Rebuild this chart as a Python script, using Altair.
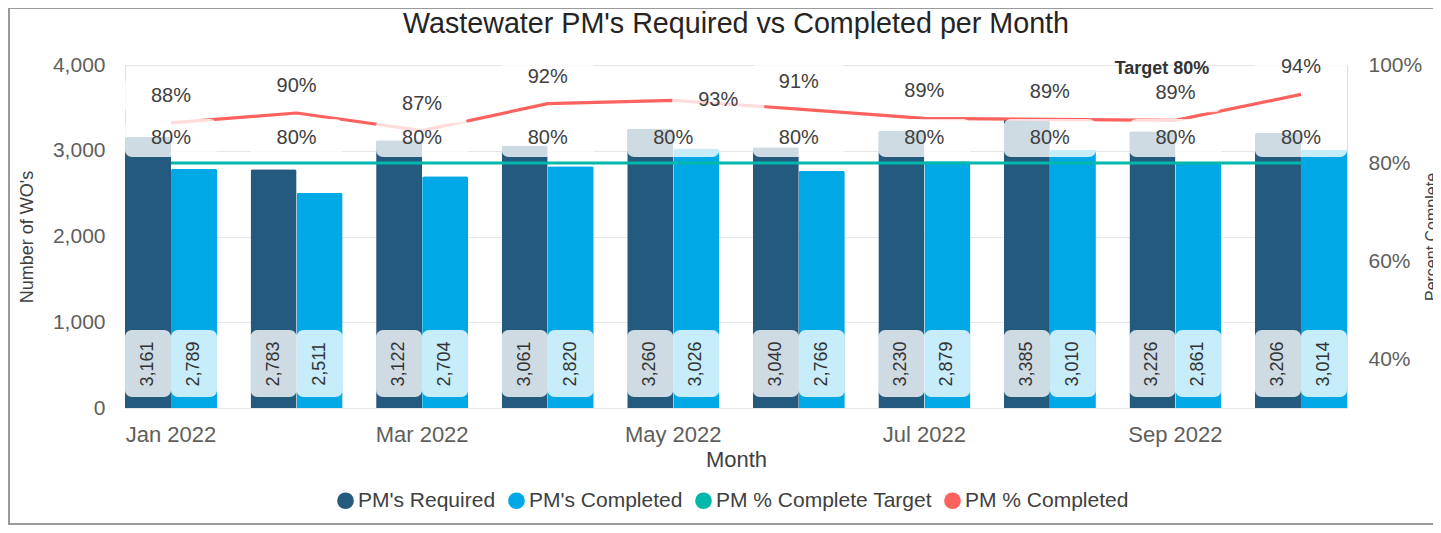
import altair as alt
import pandas as pd

months = ["Jan 2022", "Feb 2022", "Mar 2022", "Apr 2022", "May 2022",
          "Jun 2022", "Jul 2022", "Aug 2022", "Sep 2022", "Oct 2022"]
tick_months = ["Jan 2022", "Mar 2022", "May 2022", "Jul 2022", "Sep 2022"]
required = [3161, 2783, 3122, 3061, 3260, 3040, 3230, 3385, 3226, 3206]
completed = [2789, 2511, 2704, 2820, 3026, 2766, 2879, 3010, 2861, 3014]
pct_completed = [88.2, 90.2, 86.6, 92.1, 92.8, 91.0, 89.1, 88.9, 88.7, 94.0]
pct_target = [80, 80, 80, 80, 80, 80, 80, 80, 80, 80]

series = ["PM's Required", "PM's Completed", "PM % Complete Target", "PM % Completed"]
colors = ["#245A7E", "#00A9E6", "#01B8AA", "#FD625E"]
chart_title = "Wastewater PM's Required vs Completed per Month"

FONT = "Liberation Sans"
W, H = 1222, 343

bars_df = pd.DataFrame(
    [{"Month": m, "Series": series[0], "Value": v} for m, v in zip(months, required)]
    + [{"Month": m, "Series": series[1], "Value": v} for m, v in zip(months, completed)]
)
lines_df = pd.DataFrame(
    [{"Month": m, "Series": series[2], "Pct": v} for m, v in zip(months, pct_target)]
    + [{"Month": m, "Series": series[3], "Pct": v} for m, v in zip(months, pct_completed)]
)
target_df = lines_df[lines_df["Series"] == series[2]]
comp_df = lines_df[lines_df["Series"] == series[3]]

color_scale = alt.Scale(domain=series, range=colors)
x_enc = alt.X(
    "Month:N", sort=months, title="Month",
    scale=alt.Scale(paddingInner=0.267, paddingOuter=0),
    axis=alt.Axis(values=tick_months, labelAngle=0, labelFontSize=22, labelColor="#605E5C",
                  labelPadding=16, domain=False, ticks=False, grid=False,
                  titleFontSize=22, titleFontWeight="normal", titleColor="#404040", titlePadding=4,
                  labelFont=FONT, titleFont=FONT),
)
x_plain = alt.X("Month:N", sort=months)
xoff = alt.XOffset("Series:N", sort=series[:2], scale=alt.Scale(paddingInner=0, paddingOuter=0))

# ---- left (counts) group ----
bars = alt.Chart(bars_df).mark_bar(cornerRadiusTopLeft=2, cornerRadiusTopRight=2).encode(
    x=x_enc,
    xOffset=xoff,
    y=alt.Y("Value:Q", scale=alt.Scale(domain=[0, 4000]), title="Number of WO's",
            axis=alt.Axis(values=[0, 1000, 2000, 3000, 4000], labelExpr="format(datum.value, ',')",
                          grid=True, gridColor="#E6E6E6", domain=False, ticks=False, labelPadding=20,
                          labelFontSize=21, labelColor="#605E5C", titleFontSize=18,
                          titleFontWeight="normal", titleColor="#404040", titlePadding=16,
                          labelFont=FONT, titleFont=FONT)),
    color=alt.Color("Series:N", scale=color_scale, title=None,
                    legend=alt.Legend(orient="none", legendX=210, legendY=425, direction="horizontal",
                                      symbolType="circle", symbolSize=280, symbolStrokeWidth=0,
                                      labelFontSize=21, labelColor="#404040", labelFont=FONT,
                                      labelLimit=0, columnPadding=10, labelOffset=2, symbolOffset=0)),
)
bar_boxes = alt.Chart(bars_df).mark_bar(
    fill="white", opacity=0.78, cornerRadius=7, yOffset=-11, y2Offset=-78
).encode(x=x_plain, xOffset=xoff, y=alt.datum(0), y2=alt.datum(0))
bar_text = alt.Chart(bars_df).mark_text(
    angle=270, yOffset=-44, fontSize=18, color="#333333", font=FONT, baseline="middle", align="center"
).encode(x=x_plain, xOffset=xoff, y=alt.datum(0), text=alt.Text("Value:Q", format=","))
left = alt.layer(bars, bar_boxes, bar_text)

# ---- right (percent) group ----
y_pct = alt.Y("Pct:Q", scale=alt.Scale(domain=[30, 100]), title="Percent Complete",
              axis=alt.Axis(values=[40, 60, 80, 100], labelExpr="datum.value + '%'", grid=False,
                            domain=False, ticks=False, labelPadding=21, labelFontSize=21,
                            labelColor="#605E5C", titleFontSize=16, titleFontWeight="normal",
                            titleColor="#404040", titlePadding=2, titleAngle=270,
                            titleBaseline="top", labelFont=FONT, titleFont=FONT))
y_pct_plain = alt.Y("Pct:Q")
lbl = "format(datum.Pct, '.0f') + '%'"
lines = alt.Chart(lines_df).mark_line(strokeWidth=3.2).encode(
    x=x_plain, y=y_pct, color=alt.Color("Series:N", scale=color_scale), detail="Series:N"
)
target_boxes = alt.Chart(target_df).mark_rect(
    fill="white", opacity=0.78, cornerRadius=7, yOffset=-6, y2Offset=-44
).encode(x=x_plain, y=y_pct_plain, y2="Pct:Q")
target_text = alt.Chart(target_df).transform_calculate(label=lbl).mark_text(
    dy=-25, fontSize=20, color="#404040", font=FONT
).encode(x=x_plain, y=y_pct_plain, text="label:N")

comp_above = comp_df[comp_df["Month"] != "May 2022"]
comp_shift = comp_df[comp_df["Month"] == "May 2022"]
comp_boxes = alt.Chart(comp_above).mark_rect(
    fill="white", opacity=0.78, cornerRadius=7, yOffset=-8, y2Offset=-46
).encode(x=x_plain, y=y_pct_plain, y2="Pct:Q")
comp_boxes2 = alt.Chart(comp_shift).mark_rect(
    fill="white", opacity=0.78, cornerRadius=7, yOffset=19, y2Offset=-19, xOffset=45, x2Offset=45
).encode(x=x_plain, y=y_pct_plain, y2="Pct:Q")
comp_text = alt.Chart(comp_above).transform_calculate(label=lbl).mark_text(
    dy=-27, fontSize=20, color="#404040", font=FONT
).encode(x=x_plain, y=y_pct_plain, text="label:N")
comp_text2 = alt.Chart(comp_shift).transform_calculate(label=lbl).mark_text(
    dx=45, dy=0, fontSize=20, color="#404040", font=FONT
).encode(x=x_plain, y=y_pct_plain, text="label:N")

right = alt.layer(lines, target_boxes, comp_boxes, comp_boxes2, target_text, comp_text, comp_text2)

# annotations: target note, chart title, outer visual frame
one = pd.DataFrame({"t": ["Target 80%"], "title": [chart_title]})
target_label = alt.Chart(one).mark_text(
    fontSize=18, fontWeight="bold", color="#333333", font=FONT
).encode(x=alt.value(1037), y=alt.value(4), text="t:N")
title_mark = alt.Chart(one).mark_text(
    fontSize=28.7, color="#252423", font=FONT, baseline="middle", align="center"
).encode(x=alt.value(W / 2), y=alt.value(-41), text="title:N")
frame = alt.Chart(one).mark_rect(
    fill="transparent", stroke="#9A9A9A", strokeWidth=2
).encode(x=alt.value(-116), x2=alt.value(1400), y=alt.value(-57), y2=alt.value(459))

chart = alt.layer(left, right, target_label, title_mark, frame).resolve_scale(y="independent").properties(
    width=W, height=H,
    autosize=alt.AutoSizeParams(type="none"),
    padding={"left": 117, "top": 57, "right": 86, "bottom": 117},
).configure_view(stroke=None).configure(font=FONT)

chart.save("out.html", embed_options={"renderer": "svg", "actions": False})
